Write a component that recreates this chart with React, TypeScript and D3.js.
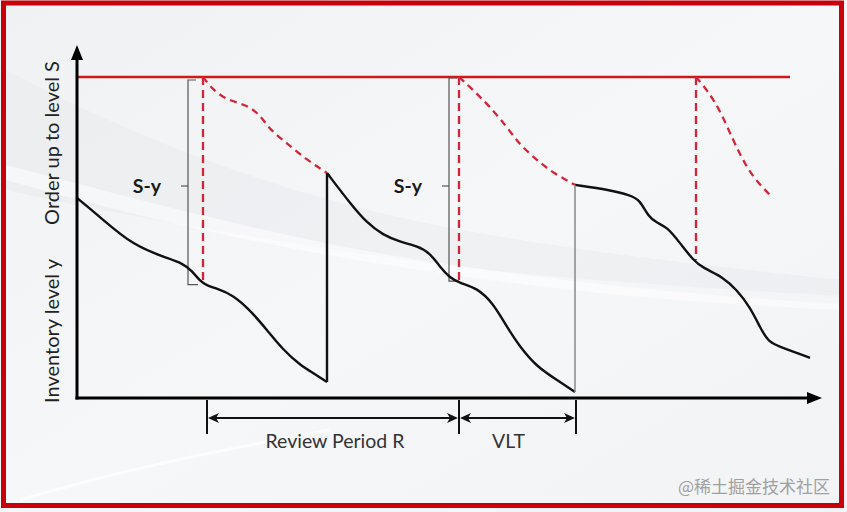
import React from "react";
import * as d3 from "d3";

// ---- data (time units, inventory units where S = 100) ----
const orderUpToLevel = 100;
const sLineEnd = 71.3;
const axisTimeMax = 74.5;

const cycle1: [number, number][] = [
  [0, 62.3], [2.3, 56.4], [5.6, 47.5], [9.0, 43.6], [10.6, 41.9], [11.5, 39.6],
  [12.3, 36.4], [13.0, 35.0], [14.0, 34.1], [15.6, 32.1], [17.3, 27.4], [19.0, 21.2],
  [20.6, 15.0], [22.3, 10.3], [23.6, 7.8], [25.0, 5.0],
];
const cycle2: [number, number][] = [
  [25.0, 70.1], [27.3, 60.7], [29.0, 54.5], [30.6, 50.8], [32.3, 48.6], [34.0, 47.4],
  [35.3, 45.2], [36.3, 40.8], [37.3, 37.4], [38.3, 35.8], [40.0, 34.3], [41.6, 29.6],
  [43.0, 22.1], [44.3, 15.9], [46.0, 9.7], [48.0, 5.6], [49.8, 1.9],
];
const cycle3: [number, number][] = [
  [49.8, 66.4], [53.3, 64.8], [55.3, 63.2], [56.3, 61.7], [57.1, 56.6], [58.0, 54.5],
  [59.0, 53.3], [60.3, 48.3], [61.6, 43.0], [62.6, 40.5], [64.6, 37.7], [66.0, 33.6],
  [67.3, 28.3], [68.3, 22.1], [69.1, 17.4], [70.6, 15.6], [73.3, 12.5],
];
const projection1: [number, number][] = [
  [12.6, 100], [13.6, 96.0], [15.0, 92.8], [17.0, 91.3], [18.3, 88.2], [19.3, 83.5],
  [21.0, 79.4], [23.0, 74.1], [25.0, 70.1],
];
const projection2: [number, number][] = [
  [38.2, 100], [39.6, 96.0], [41.3, 90.7], [43.0, 84.4], [44.3, 78.8], [46.0, 74.1],
  [47.6, 70.1], [49.8, 66.4],
];
const projection3: [number, number][] = [
  [61.9, 100], [63.0, 96.0], [64.3, 89.7], [65.6, 80.4], [66.6, 74.1], [67.6, 68.8],
  [69.3, 63.2],
];
const reviewTimes = [12.6, 38.2, 61.9];
const reviewInventory = [35.8, 36.1, 43.0];
const bracketTimes = [11.1, 37.2];
const bracketBottoms = [35.3, 36.4];
const bracketLabels = ["S-y", "S-y"];
const dimensionTimes = [13.0, 38.2, 49.9];
const dimensionLabels = ["Review Period R", "VLT"];
const yLabels = ["Inventory level y", "Order up to level S"];
const watermark = "@稀土掘金技术社区";

const W = 847;
const H = 512;
const FONT = "Lato, 'Open Sans', 'Noto Sans', sans-serif";

export default function App() {
  const x = d3.scaleLinear().domain([0, axisTimeMax]).range([77, 822]);
  const y = d3.scaleLinear().domain([0, orderUpToLevel]).range([398, 77]);
  const line = d3
    .line<[number, number]>()
    .x((d) => x(d[0]))
    .y((d) => y(d[1]))
    .curve(d3.curveBasis);

  const x0 = x(0);
  const y0 = y(0);
  const axisTop = 45;
  const xEnd = x(axisTimeMax);
  const dimY = 418;

  const arrowH = (xx: number, yy: number, dir: number, len = 11, half = 5) =>
    `M${xx},${yy} L${xx - dir * len},${yy - half} L${xx - dir * (len - 3)},${yy} L${xx - dir * len},${yy + half} Z`;

  return (
    <svg width={W} height={H} style={{ position: "absolute", left: 0, top: 0 }}>
      <defs>
        <linearGradient id="bg" x1="0" y1="0" x2="1" y2="1">
          <stop offset="0" stopColor="#eff1f3" />
          <stop offset="0.5" stopColor="#f6f7f9" />
          <stop offset="1" stopColor="#f2f3f5" />
        </linearGradient>
      </defs>
      <rect x={0} y={0} width={W} height={H} fill="url(#bg)" />
      {/* subtle background swoosh */}
      <path
        d="M6,70 C120,130 250,185 420,222 C560,250 700,265 842,280 L842,296 C700,288 560,280 420,262 C260,240 120,215 6,190 Z"
        fill="#e6e8eb"
        opacity={0.45}
      />
      <path
        d="M6,165 C140,200 280,238 420,260 C560,282 700,296 842,304 L842,310 C700,304 560,292 420,270 C280,250 140,218 6,180 Z"
        fill="#ffffff"
        opacity={0.5}
      />
      <path d="M20,500 C120,470 220,450 330,430" stroke="#ffffff" strokeWidth={3} fill="none" opacity={0.7} />

      {/* S line */}
      <line x1={x0} x2={x(sLineEnd)} y1={y(orderUpToLevel)} y2={y(orderUpToLevel)} stroke="#d01818" strokeWidth={2.5} />

      {/* projections (dashed) */}
      {[projection1, projection2, projection3].map((p, i) => (
        <path key={"p" + i} d={line(p) || ""} fill="none" stroke="#d3253a" strokeWidth={2.3} strokeDasharray="7,5" />
      ))}
      {reviewTimes.map((t, i) => (
        <line
          key={"rv" + i}
          x1={x(t)}
          x2={x(t)}
          y1={y(orderUpToLevel)}
          y2={y(reviewInventory[i])}
          stroke="#d3253a"
          strokeWidth={2.3}
          strokeDasharray="8,5"
        />
      ))}

      {/* brackets S-y */}
      {bracketTimes.map((t, i) => {
        const bx = x(t);
        const top = y(orderUpToLevel) + (i === 0 ? 3 : 1);
        const bot = y(bracketBottoms[i]);
        const mid = 186;
        return (
          <g key={"br" + i} stroke="#555" strokeWidth={1.2} fill="none">
            <path d={`M${bx + 8},${top} L${bx},${top} L${bx},${bot} L${bx + 10},${bot}`} />
            <line x1={bx - 7} x2={bx} y1={mid} y2={mid} />
          </g>
        );
      })}
      {bracketTimes.map((t, i) => (
        <text
          key={"bl" + i}
          x={x(t) - 27}
          y={193}
          textAnchor="end"
          fontFamily={FONT}
          fontWeight={700}
          fontSize={19.5}
          fill="#1a1a1a"
        >
          {bracketLabels[i]}
        </text>
      ))}

      {/* inventory curves */}
      {[cycle1, cycle2, cycle3].map((c, i) => (
        <path key={"c" + i} d={line(c) || ""} fill="none" stroke="#111" strokeWidth={2.4} />
      ))}
      {/* replenishment jumps */}
      <line
        x1={x(cycle1[cycle1.length - 1][0])}
        x2={x(cycle2[0][0])}
        y1={y(cycle1[cycle1.length - 1][1])}
        y2={y(cycle2[0][1])}
        stroke="#111"
        strokeWidth={2.4}
      />
      <line
        x1={x(cycle2[cycle2.length - 1][0])}
        x2={x(cycle3[0][0])}
        y1={y(cycle2[cycle2.length - 1][1])}
        y2={y(cycle3[0][1])}
        stroke="#888"
        strokeWidth={1.5}
      />

      {/* axes */}
      <line x1={x0} x2={x0} y1={y0 + 1.5} y2={axisTop + 8} stroke="#000" strokeWidth={3} />
      <path d={`M${x0},${axisTop} L${x0 - 6},${axisTop + 15} L${x0 + 6},${axisTop + 15} Z`} fill="#000" />
      <line x1={x0 - 1.5} x2={xEnd - 8} y1={y0} y2={y0} stroke="#000" strokeWidth={3} />
      <path d={`M${xEnd},${y0} L${xEnd - 15},${y0 - 6} L${xEnd - 15},${y0 + 6} Z`} fill="#000" />

      {/* dimension lines */}
      {dimensionTimes.map((t, i) => (
        <line key={"dt" + i} x1={x(t)} x2={x(t)} y1={y0 + 2} y2={434} stroke="#111" strokeWidth={2} />
      ))}
      {dimensionLabels.map((lab, i) => {
        const a = x(dimensionTimes[i]) + 1;
        const b = x(dimensionTimes[i + 1]) - 1;
        return (
          <g key={"dl" + i}>
            <line x1={a + 4} x2={b - 4} y1={dimY} y2={dimY} stroke="#111" strokeWidth={2} />
            <path d={arrowH(a, dimY, -1)} fill="#111" />
            <path d={arrowH(b, dimY, 1)} fill="#111" />
            <text
              x={(a + b) / 2 + (i === 0 ? 2 : -9)}
              y={448}
              textAnchor="middle"
              fontFamily={FONT}
              fontSize={19.5}
              fill="#333"
            >
              {lab}
            </text>
          </g>
        );
      })}

      {/* y labels */}
      <text
        transform={`translate(59,331) rotate(-90)`}
        textAnchor="middle"
        fontFamily={FONT}
        fontSize={20}
        fill="#222"
      >
        {yLabels[0]}
      </text>
      <text
        transform={`translate(59,143) rotate(-90)`}
        textAnchor="middle"
        fontFamily={FONT}
        fontSize={20}
        fill="#222"
      >
        {yLabels[1]}
      </text>

      {/* watermark */}
      <text
        x={830}
        y={493}
        textAnchor="end"
        fontFamily="'Noto Sans CJK SC', sans-serif"
        fontSize={17}
        fill="#a0a0a0"
      >
        {watermark}
      </text>

      {/* frame */}
      <rect x={3.5} y={3} width={838} height={502.5} fill="none" stroke="#c8000a" strokeWidth={5} />
    </svg>
  );
}
